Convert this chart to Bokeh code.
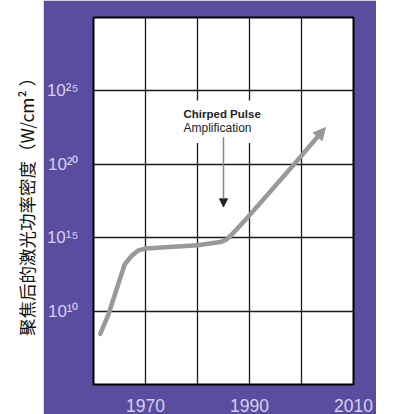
from bokeh.plotting import figure
from bokeh.models import (FixedTicker, Label, BoxAnnotation, Arrow,
                          NormalHead, Range1d)
from bokeh.layouts import row
from bokeh.core.properties import value
from bokeh.embed import file_html
from bokeh.resources import INLINE

# ---- data ----
years = [1961.3, 1962.9, 1966.0, 1967.3, 1968.6, 1970.1, 1980.0, 1984.4,
         1985.6, 1986.9, 1989.8, 1999.3]
log_intensity = [8.45, 9.80, 13.19, 13.75, 14.13, 14.27, 14.49, 14.70,
                 14.88, 15.33, 16.45, 20.29]
tip_year = 2004.6
tip_log = 22.5

x_min, x_max = 1960, 2010
y_min, y_max = 5, 30
x_ticks = [1970, 1980, 1990, 2000, 2010]
x_labels = {1970: "1970", 1980: "", 1990: "1990", 2000: "", 2010: "2010"}
y_ticks = [10, 15, 20, 25]
y_tick_labels = ["10¹⁰", "10¹⁵", "10²⁰", "10²⁵"]

cpa_year = 1985.0
cpa_line1 = "Chirped Pulse"
cpa_line2 = "Amplification"
y_title = "聚焦后的激光功率密度（W/cm² ）"

PURPLE = "#5a4c9f"
LABEL_C = "#d6d2ee"
H = 414
TOP, BOTTOM = 17, 28

x_range = Range1d(x_min, x_max)
y_range = Range1d(y_min, y_max)

# ---- left strip with the axis title ----
p0 = figure(width=43, height=H, x_range=Range1d(0, 1), y_range=y_range,
            output_backend="svg", toolbar_location=None,
            min_border_left=0, min_border_right=0,
            min_border_top=TOP, min_border_bottom=BOTTOM)
p0.axis.visible = False
p0.grid.visible = False
p0.outline_line_color = None
p0.background_fill_color = "white"
p0.border_fill_color = "white"
p0.text(x=[0.6], y=[(y_min + y_max) / 2 - 0.1], text=[y_title], angle=1.5708,
        text_align="center", text_baseline="middle",
        text_font=value("Noto Sans CJK SC"), text_font_size="17.5px",
        text_color="#111111")

# ---- main chart ----
p = figure(width=333, height=H, x_range=x_range, y_range=y_range,
           output_backend="svg", toolbar_location=None,
           min_border_left=47, min_border_right=23,
           min_border_top=TOP, min_border_bottom=BOTTOM)
p.border_fill_color = PURPLE
p.background_fill_color = "white"
p.outline_line_color = "black"
p.outline_line_width = 2

p.xaxis.ticker = FixedTicker(ticks=x_ticks)
p.xaxis.major_label_overrides = x_labels
p.yaxis.ticker = FixedTicker(ticks=y_ticks)
p.yaxis.major_label_overrides = dict(zip(y_ticks, y_tick_labels))
for ax in (p.xaxis[0], p.yaxis[0]):
    ax.axis_line_color = None
    ax.major_tick_line_color = None
    ax.minor_tick_line_color = None
    ax.major_label_text_color = LABEL_C
    ax.major_label_text_font = "Liberation Sans"
p.xaxis.major_label_text_font_size = "17.5px"
p.yaxis.major_label_text_font_size = "17px"
p.xaxis.major_label_standoff = 8
p.yaxis.major_label_standoff = 9

p.grid.grid_line_color = "#1a1a1a"
p.grid.grid_line_width = 1.3
p.grid.grid_line_alpha = 1

# white box behind the annotation text (gaps in the grid)
p.add_layout(BoxAnnotation(left=1976.6, right=1992.7, bottom=21.45, top=24.35,
                           fill_color="white", fill_alpha=1, line_color=None))
p.add_layout(Label(x=1977.3, y=23.4, text=cpa_line1, text_font="Liberation Sans",
                   text_font_size="11.5px", text_font_style="bold",
                   text_color="#222222", text_align="left", text_baseline="middle"))
p.add_layout(Label(x=1977.3, y=22.45, text=cpa_line2, text_font="Liberation Sans",
                   text_font_size="12px", text_color="#222222",
                   text_align="left", text_baseline="middle"))
p.add_layout(Arrow(x_start=cpa_year, y_start=21.85, x_end=cpa_year, y_end=17.1,
                   line_color="#888888", line_width=1.5,
                   end=NormalHead(size=8, fill_color="#222222",
                                  line_color="#222222")))

# the curve
p.line(years, log_intensity, line_color="#999999", line_width=4.5,
       line_join="round", line_cap="round")
p.add_layout(Arrow(x_start=years[-1], y_start=log_intensity[-1],
                   x_end=tip_year, y_end=tip_log,
                   line_color="#999999", line_width=4.5,
                   end=NormalHead(size=12, fill_color="#999999",
                                  line_color="#999999")))

layout = row(p0, p)
open("out.html", "w").write(file_html(layout, INLINE))
